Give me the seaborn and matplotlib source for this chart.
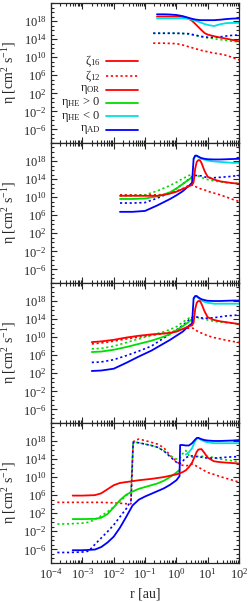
import numpy as np
import seaborn as sns
import matplotlib
matplotlib.use("Agg")
import matplotlib.pyplot as plt
from matplotlib.ticker import FixedLocator, LogLocator, LogFormatterSciNotation, NullFormatter

# Все значения -- десятичные логарифмы (log10 r [au], log10 eta [cm^2 s^-1])
nan = np.nan

# Панель 1
p1_r16 = [-0.62, -0.4, -0.2, 0.0, 0.2, 0.3, 0.4, 0.5, 0.6, 0.7, 0.8, 0.9, 1.0, 1.2, 1.4, 1.6, 1.8, 2.0]
p1_or16 = [19.0, 19.0, 19.0, 19.0, 18.95, 18.8, 18.5, 18.05, 17.4, 16.7, 16.0, 15.35, 15.0, 14.65, 14.35, 14.1, 13.8, 13.5]
p1_heneg16 = [18.6, 18.6, 18.6, 18.6, 18.6, 18.55, 18.45, 18.3, 18.1, 17.85, 17.6, 17.35, 17.15, 16.9, 17.3, 17.55, 17.6, 17.6]
p1_ad16 = [19.5, 19.5, 19.45, 19.35, 19.1, 18.9, 18.7, 18.5, 18.35, 18.25, 18.2, 18.2, 18.2, 18.2, 18.3, 18.45, 18.55, 18.6]
p1_r12 = [-0.74, -0.6, -0.4, -0.2, 0.0, 0.2, 0.4, 0.6, 0.8, 1.0, 1.2, 1.4, 1.6, 1.8, 2.0]
p1_or12 = [13.1, 13.1, 13.1, 13.05, 13.0, 12.7, 12.3, 11.9, 11.5, 11.2, 10.9, 10.7, 10.4, 9.9, 9.4]
p1_hepos12 = [15.3, 15.3, 15.3, 15.3, 15.3, 15.25, 15.1, 14.8, 14.5, 14.3, 14.1, 13.9, 13.7, 13.5, 13.4]
p1_ad12 = [15.3, 15.3, 15.3, 15.3, 15.3, 15.25, 15.2, 14.9, 14.6, 14.4, 14.4, 14.5, 14.7, 14.85, 14.9]

# Панель 2
p2_r = [-1.8, -1.4, -1.0, -0.6, -0.4, -0.2, 0.0, 0.2, 0.4, 0.5, 0.55, 0.6, 0.65, 0.7, 0.75, 0.8, 0.9, 1.0, 1.2, 1.4, 1.6, 1.8, 2.0]
p2_or16 = [10.3, 10.3, 10.3, 10.3, 10.5, 10.8, 11.2, 11.8, 12.4, 12.7, 13.3, 16.3, 17.8, 18.2, 18.2, 17.6, 15.8, 14.5, 13.9, 13.5, 13.3, 13.1, 13.0]
p2_hepos16 = [9.6, 9.6, 9.7, 10.2, 10.6, 11.1, 11.9, 12.9, 13.9, 14.4, nan, nan, nan, nan, nan, nan, nan, nan, nan, nan, nan, nan, nan]
p2_heneg16 = [nan, nan, nan, nan, nan, nan, nan, nan, nan, nan, 18.4, 19.1, 19.1, 18.9, 18.7, 18.5, 18.3, 18.1, 17.9, 17.8, 17.7, 17.6, 17.6]
p2_ad16 = [6.75, 6.75, 6.95, 8.2, 8.9, 9.6, 10.4, 11.3, 12.5, 13.2, 18.5, 19.2, 19.2, 19.0, 18.8, 18.65, 18.5, 18.4, 18.35, 18.35, 18.4, 18.45, 18.5]
p2_or12 = [10.5, 10.5, 10.5, 10.5, 10.6, 10.9, 11.3, 11.9, 12.6, 12.7, 12.6, 12.4, 12.2, 12.0, 11.9, 11.8, 11.6, 11.3, 10.9, 10.5, 10.0, 9.5, 9.05]
p2_hepos12 = [10.3, 10.35, 10.5, 11.4, 12.0, 12.6, 13.3, 14.1, 14.8, 15.0, 15.0, 14.9, 14.8, 14.7, 14.55, 14.4, 14.1, 13.9, 13.6, 13.4, 13.2, 13.1, 13.0]
p2_ad12 = [8.7, 8.7, 8.8, 9.8, 10.4, 11.0, 11.9, 12.9, 14.0, 14.5, 14.7, 14.8, 14.8, 14.8, 14.75, 14.7, 14.5, 14.3, 14.3, 14.4, 14.5, 14.65, 14.8]

# Панель 3
p3_r = [-2.7, -2.4, -2.0, -1.6, -1.2, -0.8, -0.4, -0.2, 0.0, 0.2, 0.4, 0.5, 0.55, 0.6, 0.65, 0.7, 0.75, 0.8, 0.9, 1.0, 1.2, 1.4, 1.6, 1.8, 2.0]
p3_or16 = [8.9, 9.05, 9.4, 9.9, 10.3, 10.6, 10.8, 10.95, 11.2, 11.8, 12.4, 12.6, 13.2, 16.2, 17.6, 18.0, 18.0, 17.4, 15.7, 14.4, 13.8, 13.5, 13.3, 13.1, 12.9]
p3_hepos16 = [6.7, 6.8, 7.2, 7.8, 8.5, 9.2, 10.1, 10.7, 11.5, 12.4, 13.4, 14.0, nan, nan, nan, nan, nan, nan, nan, nan, nan, nan, nan, nan, nan]
p3_heneg16 = [nan, nan, nan, nan, nan, nan, nan, nan, nan, nan, nan, nan, 18.5, 19.0, 19.0, 18.7, 18.4, 18.1, 17.8, 17.6, 17.4, 17.4, 17.4, 17.4, 17.4]
p3_ad16 = [2.5, 2.6, 3.0, 4.3, 5.7, 7.0, 8.6, 9.4, 10.3, 11.2, 12.5, 13.0, 18.6, 19.1, 19.1, 18.8, 18.6, 18.4, 18.2, 18.05, 18.0, 18.0, 18.05, 18.1, 18.1]
p3_or12 = [8.5, 8.7, 9.1, 9.6, 10.0, 10.4, 10.8, 11.1, 11.4, 11.8, 12.0, 12.0, 11.9, 11.6, 11.4, 11.2, 11.0, 10.9, 10.6, 10.3, 9.9, 9.6, 9.3, 9.05, 8.8]
p3_hepos12 = [7.4, 7.5, 8.0, 8.8, 9.6, 10.4, 11.2, 11.7, 12.3, 13.3, 14.2, 14.4, 14.5, 14.45, 14.4, 14.3, 14.2, 14.1, 14.0, 13.8, 13.5, 13.3, 13.2, 13.05, 12.9]
p3_ad12 = [4.4, 4.5, 5.0, 5.9, 6.9, 8.0, 9.8, 10.7, 11.6, 12.6, 13.8, 14.3, 14.4, 14.45, 14.45, 14.4, 14.3, 14.25, 14.2, 14.2, 14.3, 14.5, 14.7, 14.8, 14.9]

# Панель 4
p4_r16 = [-3.31, -3.0, -2.6, -2.4, -2.2, -2.0, -1.8, -1.6, -1.4, -1.2, -1.0, -0.8, -0.6, -0.4, -0.2, 0.0, 0.1, 0.12,
          0.2, 0.3, 0.4, 0.5, 0.6, 0.65, 0.7, 0.8, 0.9, 1.0, 1.2, 1.4, 1.6, 1.8, 2.0]
p4_or16 = [5.9, 5.9, 6.0, 6.4, 7.3, 8.2, 8.7, 8.9, 9.1, 9.3, 9.45, 9.6, 9.8, 10.0, 10.3, 10.6, 10.8, 10.9,
           11.1, 11.5, 12.2, 13.2, 14.8, 15.6, 16.1, 16.2, 15.3, 14.3, 13.5, 13.3, 13.2, 13.1, 13.0]
p4_hepos16 = [0.7, 0.7, 0.75, 1.0, 1.8, 3.3, 4.9, 6.1, 6.8, 7.4, 7.8, 8.2, 8.6, 9.2, 10.0, 11.0, 11.6, nan,
              nan, nan, nan, nan, nan, nan, nan, nan, nan, nan, nan, nan, nan, nan, nan]
p4_heneg16 = [nan, nan, nan, nan, nan, nan, nan, nan, nan, nan, nan, nan, nan, nan, nan, nan, nan, nan,
              nan, 15.0, 15.5, 16.4, 18.0, 18.5, 18.6, 18.2, 17.9, 17.7, 17.5, 17.5, 17.5, 17.5, 17.5]
p4_ad16 = [-6.2, -6.2, -6.05, -5.5, -4.5, -3.2, -1.2, 1.2, 3.7, 5.0, 5.7, 6.3, 6.9, 7.5, 8.3, 9.3, 10.2, 17.1,
           17.1, 17.0, 17.0, 17.5, 18.3, 18.65, 18.7, 18.4, 18.2, 18.1, 18.0, 18.0, 18.05, 18.1, 18.2]
p4_r12 = [-3.8, -3.4, -3.0, -2.8, -2.6, -2.4, -2.2, -2.0, -1.8, -1.6, -1.45, -1.38, -1.3, -1.2, -1.0, -0.8, -0.6,
          -0.4, -0.2, 0.0, 0.1, 0.2, 0.3, 0.4, 0.5, 0.6, 0.7, 0.8, 1.0, 1.2, 1.4, 1.6, 1.8, 2.0]
p4_or12 = [4.4, 4.4, 4.4, 4.4, 4.4, 4.4, 4.35, 4.3, 4.2, 4.1, 4.1, 17.8, 18.2, 18.4, 18.1, 17.7, 17.3,
           16.5, 14.8, 13.5, 12.9, 12.6, 12.5, 12.6, 12.9, 12.6, 12.2, 11.8, 11.0, 10.6, 10.1, 9.7, 9.3, 8.9]
p4_hepos12 = [-0.4, -0.35, -0.2, 0.0, 0.6, 1.4, 2.3, 3.4, 4.6, 5.9, 6.8, 17.6, 17.7, 17.6, 17.3, 17.0, 16.6,
              15.8, 14.7, 14.0, 14.0, 15.2, 15.9, 14.8, 14.4, 14.5, 14.6, 14.6, 14.6, 14.3, 14.0, 13.8, 13.6, 13.4]
p4_ad12 = [-6.7, -6.7, -6.6, -6.4, -4.9, -3.5, -2.1, -0.6, 1.2, 3.0, 4.8, 17.6, 17.7, 17.6, 17.3, 17.0, 16.6,
           15.8, 14.5, 13.3, 12.9, 13.5, 14.3, 14.6, 14.7, 14.6, 14.5, 14.4, 14.2, 14.2, 14.3, 14.4, 14.5, 14.5]

red, green, cyan, blue = '#ff0000', '#00dd00', '#00e0e0', '#0000ff'
solid = '-'
dots = (0, (1.3, 1.6))

sns.set_style('ticks')
plt.rcParams['font.family'] = ['Liberation Serif', 'DejaVu Serif']
plt.rcParams['mathtext.fontset'] = 'custom'
plt.rcParams['mathtext.rm'] = 'Liberation Serif'
plt.rcParams['mathtext.it'] = 'Liberation Serif:italic'
plt.rcParams['font.size'] = 9


def draw(ax, r, eta, color, style):
    x = np.power(10.0, np.array(r, dtype=float))
    y = np.power(10.0, np.array(eta, dtype=float))
    ok = ~np.isnan(y)
    sns.lineplot(x=x[ok], y=y[ok], ax=ax, color=color, linestyle=style,
                 linewidth=1.3 if style == solid else 1.2, sort=False, estimator=None)


fig, axes = plt.subplots(4, 1, figsize=(2.49, 6.02), dpi=100, sharex=True)
plt.subplots_adjust(left=0.205, right=0.96, top=0.995, bottom=0.065, hspace=0)

panels = [
    [(p1_r12, p1_or12, red, dots), (p1_r12, p1_hepos12, green, dots), (p1_r12, p1_ad12, blue, dots),
     (p1_r16, p1_or16, red, solid), (p1_r16, p1_heneg16, cyan, solid), (p1_r16, p1_ad16, blue, solid)],
    [(p2_r, p2_or12, red, dots), (p2_r, p2_hepos12, green, dots), (p2_r, p2_ad12, blue, dots),
     (p2_r, p2_hepos16, green, solid), (p2_r, p2_heneg16, cyan, solid), (p2_r, p2_ad16, blue, solid),
     (p2_r, p2_or16, red, solid)],
    [(p3_r, p3_or12, red, dots), (p3_r, p3_hepos12, green, dots), (p3_r, p3_ad12, blue, dots),
     (p3_r, p3_hepos16, green, solid), (p3_r, p3_heneg16, cyan, solid), (p3_r, p3_ad16, blue, solid),
     (p3_r, p3_or16, red, solid)],
    [(p4_r12, p4_or12, red, dots), (p4_r12, p4_hepos12, green, dots), (p4_r12, p4_ad12, blue, dots),
     (p4_r16, p4_hepos16, green, solid), (p4_r16, p4_heneg16, cyan, solid), (p4_r16, p4_ad16, blue, solid),
     (p4_r16, p4_or16, red, solid)],
]

for ax, curves in zip(axes, panels):
    for r, eta, color, style in curves:
        draw(ax, r, eta, color, style)
    ax.set_xscale('log')
    ax.set_yscale('log')
    ax.set_xlim(1e-4, 1e2)
    ax.set_ylim(1e-9, 1e22)
    ax.yaxis.set_major_locator(FixedLocator([1e-6, 1e-2, 1e2, 1e6, 1e10, 1e14, 1e18]))
    ax.yaxis.set_minor_locator(FixedLocator(10.0 ** np.arange(-9, 23)))
    ax.yaxis.set_major_formatter(LogFormatterSciNotation())
    ax.yaxis.set_minor_formatter(NullFormatter())
    ax.xaxis.set_major_locator(LogLocator(base=10, numticks=20))
    ax.xaxis.set_minor_locator(LogLocator(base=10, subs=np.arange(2, 10), numticks=20))
    ax.xaxis.set_minor_formatter(NullFormatter())
    ax.tick_params(which='both', direction='in', top=True, right=True, labelsize=9, width=0.8, pad=3)
    ax.tick_params(which='major', length=4)
    ax.tick_params(which='minor', length=2)
    for s in ax.spines.values():
        s.set_linewidth(0.9)
    ax.set_ylabel('η [cm$^2$ s$^{-1}$]', fontsize=10, labelpad=3)
    ax.set_xlabel('')

axes[-1].set_xlabel('r [au]', fontsize=10, labelpad=4)

# Легенда в стиле gnuplot: подпись справа налево, затем образец линии
leg_labels = ['ζ$_{16}$', 'ζ$_{12}$', 'η$_{\\rm OR}$', 'η$_{\\rm HE}$ > 0', 'η$_{\\rm HE}$ < 0', 'η$_{\\rm AD}$']
leg_colors = [red, red, red, green, cyan, blue]
leg_styles = [solid, dots, solid, solid, solid, solid]
leg_rows = [0.588, 0.478, 0.381, 0.288, 0.19, 0.094]
ax0 = axes[0]
for lab, color, style, yy in zip(leg_labels, leg_colors, leg_styles, leg_rows):
    ax0.plot([0.29, 0.465], [yy, yy], transform=ax0.transAxes, color=color, linestyle=style,
             linewidth=1.3 if style == solid else 1.2)
    ax0.text(0.265, yy, lab, transform=ax0.transAxes, ha='right', va='center', fontsize=9)

plt.savefig('out.png', dpi=100)
